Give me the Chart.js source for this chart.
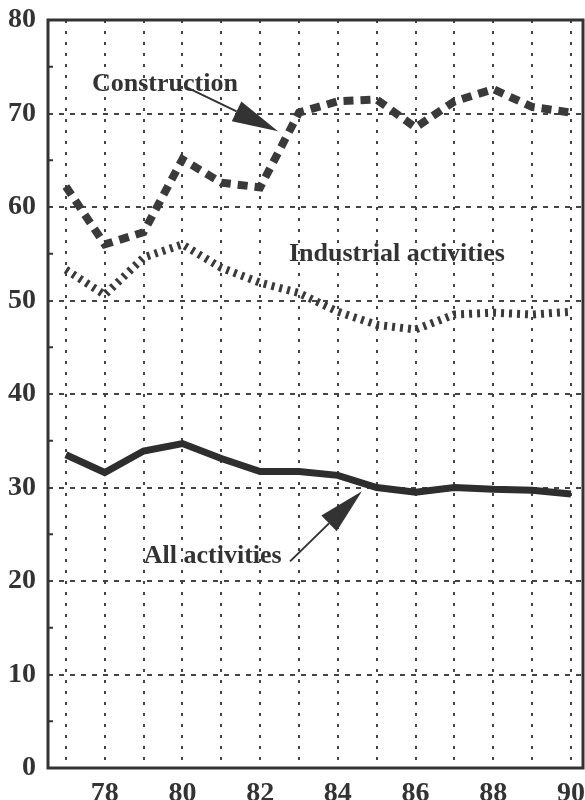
<!DOCTYPE html>
<html lang="en">
<head>
    <meta charset="UTF-8">
    <title>Activities 77-90</title>
    <script src="https://cdn.jsdelivr.net/npm/chart.js"></script>
    <style>
        body { margin: 0; background: #fff; }
        canvas { display: block; }
    </style>
</head>
<body>
    <canvas id="myChart" width="585" height="800"></canvas>

<script>
    // data
    const anos = [77, 78, 79, 80, 81, 82, 83, 84, 85, 86, 87, 88, 89, 90];
    const construction = [62.2, 56.0, 57.3, 65.1, 62.6, 62.1, 70.1, 71.3, 71.5, 68.5, 71.3, 72.6, 70.7, 70.1];
    const industrial = [53.3, 50.6, 54.6, 56.0, 53.5, 51.9, 50.8, 48.8, 47.4, 46.9, 48.5, 48.7, 48.5, 48.8];
    const allActivities = [33.5, 31.6, 33.9, 34.7, 33.1, 31.7, 31.7, 31.3, 30.0, 29.5, 30.0, 29.8, 29.7, 29.3];
    const yTicks = [0, 10, 20, 30, 40, 50, 60, 70, 80];
    const minorTicks = [5, 15, 25, 35, 45, 55, 65, 75];

    const cor = '#333';
    const fonte = 'Liberation Serif, Times New Roman, serif';

    function pontos(valores) {
        return anos.map((a, i) => ({ x: a, y: valores[i] }));
    }

    // textos e setas em coordenadas dos dados
    const rotulos = [
        { texto: 'Construction', x: 79.55, y: 73.1 },
        { texto: 'Industrial activities', x: 85.52, y: 54.9 },
        { texto: 'All activities', x: 80.78, y: 22.6 }
    ];
    const setas = [
        { de: [80.11, 72.8], para: [82.46, 68.1] },
        { de: [82.77, 22.1], para: [84.62, 29.6] }
    ];

    // zera o espaço extra que o Chart.js reserva para os rótulos das pontas
    function semPadding(scale) {
        scale.paddingTop = 0;
        scale.paddingBottom = 0;
        scale.paddingLeft = 0;
        scale.paddingRight = 0;
    }

    const enfeites = {
        id: 'enfeites',
        afterDraw(chart) {
            const ctx = chart.ctx;
            const a = chart.chartArea;
            const xs = chart.scales.x;
            const ys = chart.scales.y;
            ctx.save();

            // caixa
            ctx.strokeStyle = cor;
            ctx.lineWidth = 3;
            ctx.setLineDash([]);
            ctx.strokeRect(a.left, a.top, a.right - a.left, a.bottom - a.top);

            // tracinhos menores no eixo y
            ctx.lineWidth = 2;
            minorTicks.forEach(v => {
                const py = ys.getPixelForValue(v);
                ctx.beginPath();
                ctx.moveTo(a.left, py);
                ctx.lineTo(a.left + 5, py);
                ctx.stroke();
            });

            // setas
            setas.forEach(s => {
                const x1 = xs.getPixelForValue(s.de[0]), y1 = ys.getPixelForValue(s.de[1]);
                const x2 = xs.getPixelForValue(s.para[0]), y2 = ys.getPixelForValue(s.para[1]);
                const ang = Math.atan2(y2 - y1, x2 - x1);
                const comp = 46, meia = 11;
                const bx = x2 - comp * Math.cos(ang), by = y2 - comp * Math.sin(ang);
                ctx.strokeStyle = cor;
                ctx.lineWidth = 2;
                ctx.beginPath();
                ctx.moveTo(x1, y1);
                ctx.lineTo(bx, by);
                ctx.stroke();
                ctx.fillStyle = cor;
                ctx.beginPath();
                ctx.moveTo(x2, y2);
                ctx.lineTo(bx + meia * Math.sin(ang), by - meia * Math.cos(ang));
                ctx.lineTo(bx - meia * Math.sin(ang), by + meia * Math.cos(ang));
                ctx.closePath();
                ctx.fill();
            });

            // textos
            ctx.fillStyle = cor;
            ctx.font = 'bold 26px ' + fonte;
            ctx.textAlign = 'center';
            ctx.textBaseline = 'middle';
            rotulos.forEach(r => {
                ctx.fillText(r.texto, xs.getPixelForValue(r.x), ys.getPixelForValue(r.y));
            });
            ctx.restore();
        }
    };

    const config = {
        type: 'line',
        data: {
            datasets: [
                {
                    label: 'Construction',
                    data: pontos(construction),
                    borderColor: '#3a3a3a',
                    borderWidth: 8,
                    borderDash: [10, 7],
                    pointRadius: 0,
                    tension: 0
                },
                {
                    label: 'Industrial activities',
                    data: pontos(industrial),
                    borderColor: '#3a3a3a',
                    borderWidth: 8,
                    borderDash: [3, 5],
                    pointRadius: 0,
                    tension: 0
                },
                {
                    label: 'All activities',
                    data: pontos(allActivities),
                    borderColor: '#2e2e2e',
                    borderWidth: 7,
                    pointRadius: 0,
                    tension: 0
                }
            ]
        },
        options: {
            responsive: false,
            animation: false,
            layout: { padding: { top: 20, right: 2, left: 0, bottom: 0 } },
            plugins: {
                legend: { display: false },
                tooltip: { enabled: false }
            },
            scales: {
                x: {
                    type: 'linear',
                    min: 76.54,
                    max: 90.31,
                    afterBuildTicks: (scale) => { scale.ticks = anos.map(v => ({ value: v })); },
                    afterFit: (scale) => { scale.height = 32; semPadding(scale); },
                    ticks: {
                        autoSkip: false,
                        maxRotation: 0,
                        padding: 9,
                        color: cor,
                        font: { family: fonte, size: 28, weight: 'bold' },
                        callback: (v) => (v % 2 === 0 ? String(v) : '')
                    },
                    grid: { color: '#444', lineWidth: 2, drawTicks: false },
                    border: { display: false, dash: [3, 8] }
                },
                y: {
                    min: 0,
                    max: 80,
                    afterBuildTicks: (scale) => { scale.ticks = yTicks.map(v => ({ value: v })); },
                    afterFit: (scale) => { scale.width = 48; semPadding(scale); },
                    ticks: {
                        padding: 12,
                        color: cor,
                        font: { family: fonte, size: 28, weight: 'bold' }
                    },
                    grid: { color: '#444', lineWidth: 2, drawTicks: false },
                    border: { display: false, dash: [5, 6] }
                }
            }
        },
        plugins: [enfeites]
    };

    let myChart = new Chart(document.getElementById('myChart'), config);
</script>
</body>
</html>
